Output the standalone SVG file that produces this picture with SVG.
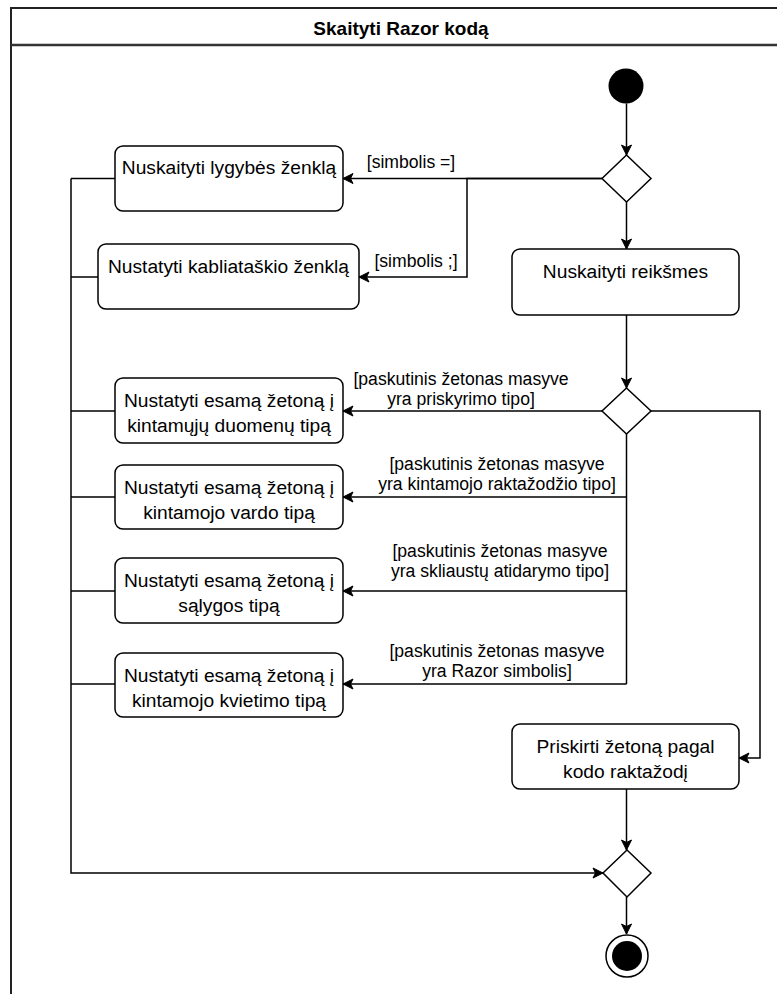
<svg xmlns="http://www.w3.org/2000/svg" width="777" height="994" viewBox="0 0 777 994">
  <style>
    .frame { fill: #ffffff; stroke: #222222; stroke-width: 2; }
    .divider { stroke: #333333; stroke-width: 2.5; }
    .title { font-family: "Liberation Sans", Arial, sans-serif; font-weight: bold; font-size: 19px; fill: #000; text-anchor: middle; }
    .act rect { fill: #ffffff; stroke: #000000; stroke-width: 1.5; }
    .act text { font-family: "Liberation Sans", Arial, sans-serif; font-size: 19.2px; fill: #000; text-anchor: middle; }
    .dec polygon { fill: #ffffff; stroke: #000000; stroke-width: 1.5; }
    .edge { fill: none; stroke: #000000; stroke-width: 1.5; marker-end: url(#arrow); }
    .line { fill: none; stroke: #000000; stroke-width: 1.5; }
    .guard { font-family: "Liberation Sans", Arial, sans-serif; font-size: 17.6px; fill: #000; text-anchor: middle; }
  </style>
  <defs>
    <marker id="arrow" viewBox="0 0 12 12" refX="11" refY="6" markerWidth="12" markerHeight="12" markerUnits="userSpaceOnUse" orient="auto">
      <path d="M11,6 L1,1 L3.5,6 L1,11 Z" fill="#000" stroke="#000" stroke-width="1"/>
    </marker>
  </defs>

  <rect width="777" height="994" fill="#ffffff"/>

  <!-- swimlane frame with title bar -->
  <g id="frame">
    <rect class="frame" x="11" y="8" width="790" height="1010"/>
    <line class="divider" x1="11" y1="45" x2="801" y2="45"/>
    <text class="title" x="401" y="35">Skaityti Razor kodą</text>
  </g>

  <!-- connectors -->
  <g id="connectors">
    <path class="edge" d="M626.5,103.5 V155"/>
    <path class="edge" d="M602,178.5 H343"/>
    <path class="edge" d="M602,178.5 H467 V277 H359"/>
    <path class="edge" d="M626.5,202 V249"/>
    <path class="edge" d="M626.5,315 V388"/>
    <path class="edge" d="M602,411 H343"/>
    <path class="line" d="M626.5,434 V684"/>
    <path class="edge" d="M626.5,497 H343"/>
    <path class="edge" d="M626.5,591 H343"/>
    <path class="edge" d="M626.5,684 H343"/>
    <path class="edge" d="M651,411 H760 V758 H739"/>
    <path class="edge" d="M626.5,789 V850"/>
    <path class="line" d="M115,178.5 H71 M98,277 H71 M115,411 H71 M115,497 H71 M115,591 H71 M115,684 H71"/>
    <path class="edge" d="M71,178.5 V873 H603"/>
    <path class="edge" d="M626.5,897 V934"/>
    <text class="guard" x="411" y="168">[simbolis =]</text>
    <text class="guard" x="416" y="267">[simbolis ;]</text>
    <text class="guard" x="461" y="385">[paskutinis žetonas masyve</text>
    <text class="guard" x="461" y="405">yra priskyrimo tipo]</text>
    <text class="guard" x="497" y="470">[paskutinis žetonas masyve</text>
    <text class="guard" x="497" y="490">yra kintamojo raktažodžio tipo]</text>
    <text class="guard" x="500" y="557">[paskutinis žetonas masyve</text>
    <text class="guard" x="500" y="577">yra skliaustų atidarymo tipo]</text>
    <text class="guard" x="497" y="657">[paskutinis žetonas masyve</text>
    <text class="guard" x="497" y="677">yra Razor simbolis]</text>
  </g>

  <!-- initial node -->
  <g id="start">
    <circle cx="626" cy="86" r="17.5" fill="#000"/>
  </g>

  <!-- first decision -->
  <g id="decision1" class="dec">
    <polygon points="626.5,155 651,178.5 626.5,202 602,178.5"/>
  </g>

  <g id="readEquals" class="act">
    <rect x="115" y="146" width="228" height="65" rx="8"/>
    <text x="229" y="174">Nuskaityti lygybės ženklą</text>
  </g>

  <g id="setSemicolon" class="act">
    <rect x="98" y="244" width="261" height="65" rx="8"/>
    <text x="228.5" y="273">Nustatyti kabliataškio ženklą</text>
  </g>

  <g id="readValues" class="act">
    <rect x="512" y="249" width="227" height="66" rx="8"/>
    <text x="625.5" y="278">Nuskaityti reikšmes</text>
  </g>

  <!-- second decision -->
  <g id="decision2" class="dec">
    <polygon points="626.5,388 651,411 626.5,434 602,411"/>
  </g>

  <g id="dataType" class="act">
    <rect x="115" y="378" width="228" height="65" rx="8"/>
    <text x="229" y="407">Nustatyti esamą žetoną į</text>
    <text x="229" y="432">kintamųjų duomenų tipą</text>
  </g>

  <g id="nameType" class="act">
    <rect x="115" y="465" width="228" height="64" rx="8"/>
    <text x="229" y="494">Nustatyti esamą žetoną į</text>
    <text x="229" y="519">kintamojo vardo tipą</text>
  </g>

  <g id="conditionType" class="act">
    <rect x="115" y="558" width="228" height="65" rx="8"/>
    <text x="229" y="587">Nustatyti esamą žetoną į</text>
    <text x="229" y="612">sąlygos tipą</text>
  </g>

  <g id="callType" class="act">
    <rect x="115" y="653" width="228" height="64" rx="8"/>
    <text x="229" y="682">Nustatyti esamą žetoną į</text>
    <text x="229" y="707">kintamojo kvietimo tipą</text>
  </g>

  <g id="keywordToken" class="act">
    <rect x="512" y="724" width="227" height="65" rx="8"/>
    <text x="625.5" y="753">Priskirti žetoną pagal</text>
    <text x="625.5" y="778">kodo raktažodį</text>
  </g>

  <!-- merge -->
  <g id="merge" class="dec">
    <polygon points="627,850 651,873 627,897 603,873"/>
  </g>

  <!-- final node -->
  <g id="end">
    <circle cx="627" cy="956" r="21" fill="#ffffff" stroke="#000" stroke-width="1.5"/>
    <circle cx="627" cy="956" r="15" fill="#000"/>
  </g>
</svg>
